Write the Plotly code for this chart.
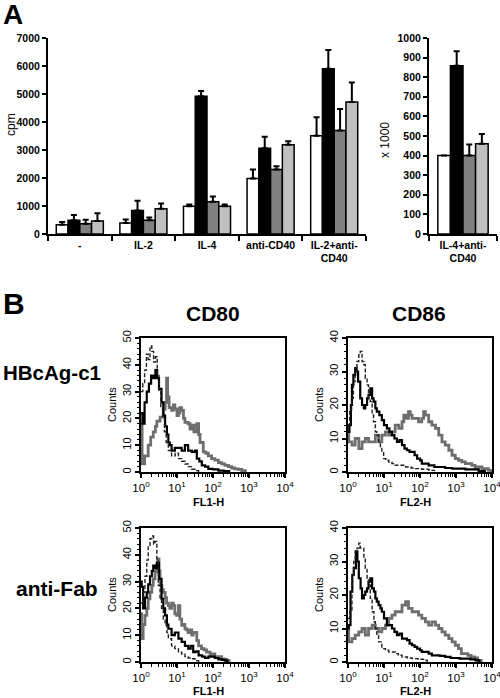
import plotly.graph_objects as go

# ---------------- Panel A data ----------------
categories_a = ["-", "IL-2", "IL-4", "anti-CD40", "IL-2+anti-<br>CD40"]
series_names = ["s1", "s2", "s3", "s4"]
series_colors = ["#ffffff", "#000000", "#808080", "#c0c0c0"]
vals_s1 = [330, 390, 990, 1980, 3510]
vals_s2 = [490, 840, 4920, 3060, 5900]
vals_s3 = [370, 490, 1150, 2300, 3700]
vals_s4 = [460, 900, 990, 3190, 4710]
err_s1 = [100, 130, 60, 320, 660]
err_s2 = [190, 350, 190, 410, 670]
err_s3 = [140, 95, 190, 120, 760]
err_s4 = [280, 190, 60, 120, 700]

categories_a2 = ["IL-4+anti-<br>CD40"]
vals2 = [[400], [858], [401], [461]]
errs2 = [[0], [74], [55], [49]]

# ---------------- Panel B data (log10 of fluorescence, counts) ----------------
# CD80, HBcAg-c1
h1_iso_x = [0, 0.05, 0.1, 0.15, 0.2, 0.25, 0.3, 0.35, 0.4, 0.45, 0.5, 0.55, 0.6, 0.65, 0.7, 0.76, 0.85, 0.95, 1.04, 1.13, 1.22, 1.31, 1.4, 1.5, 1.6]
h1_iso_y = [30, 33, 38, 44, 42, 47, 45, 41, 43, 36, 30, 24, 20, 15, 11, 8, 6, 7, 5, 4, 3, 2, 1, 0.5, 0]
h1_blk_x = [0, 0.04, 0.1, 0.16, 0.22, 0.28, 0.34, 0.4, 0.45, 0.5, 0.57, 0.62, 0.67, 0.72, 0.76, 0.8, 0.85, 0.94, 1.04, 1.13, 1.22, 1.31, 1.41, 1.5, 1.55, 1.62, 1.69, 1.78, 1.87, 2.0, 2.15, 2.3, 2.45]
h1_blk_y = [22, 18, 26, 30, 33, 36, 35, 38, 35, 31, 26, 21, 17, 14, 11, 10, 8, 9, 9, 8, 10, 8, 7.5, 8, 5, 4, 2.5, 2, 1.2, 1, 0.5, 0.3, 0]
h1_gry_x = [0, 0.03, 0.1, 0.2, 0.27, 0.34, 0.4, 0.44, 0.53, 0.62, 0.67, 0.71, 0.74, 0.78, 0.85, 0.9, 0.94, 1.0, 1.04, 1.08, 1.13, 1.18, 1.22, 1.31, 1.36, 1.41, 1.47, 1.55, 1.6, 1.64, 1.73, 1.8, 1.87, 1.96, 2.05, 2.15, 2.24, 2.33, 2.43, 2.52, 2.6, 2.7, 2.8, 2.9]
h1_gry_y = [18, 3, 6, 10, 13, 15, 17, 19, 20.5, 23.5, 26, 35, 28, 24, 23, 25, 23.5, 21, 22, 24, 23, 20, 18.5, 18, 16, 17.5, 15, 18, 14, 11, 7.5, 7, 6, 5, 4.4, 3.5, 3, 2.5, 2, 1.5, 1.2, 1, 0.5, 0]

# CD86, HBcAg-c1
h2_iso_x = [0.0, 0.05, 0.1, 0.15, 0.2, 0.25, 0.3, 0.34, 0.39, 0.44, 0.48, 0.53, 0.57, 0.62, 0.67, 0.71, 0.76, 0.8, 0.85, 0.9, 0.94, 0.99, 1.05, 1.13, 1.22, 1.31, 1.45, 1.6, 1.75, 1.87, 2.05, 2.25, 2.4]
h2_iso_y = [14, 18, 22, 27, 30, 33, 35, 36, 33, 32, 28, 26, 22, 21, 17, 15, 12, 11, 9, 7, 6, 4, 3.5, 3, 2.5, 2, 2, 1.5, 1.2, 1, 0.8, 0.5, 0]
h2_blk_x = [0, 0.04, 0.08, 0.11, 0.15, 0.2, 0.24, 0.28, 0.34, 0.39, 0.44, 0.48, 0.53, 0.57, 0.62, 0.67, 0.71, 0.76, 0.8, 0.87, 0.94, 1.0, 1.08, 1.15, 1.22, 1.29, 1.36, 1.43, 1.5, 1.57, 1.64, 1.71, 1.78, 1.85, 1.92, 2.0, 2.05, 2.15, 2.24, 2.4, 2.52, 2.7, 2.9, 3.1, 3.26, 3.45, 3.63, 3.8]
h2_blk_y = [12, 14, 20, 26, 29, 31, 30, 27, 22, 20, 19, 20, 22, 23, 25, 22, 21, 19, 18, 17, 15.5, 14, 13, 12, 11, 10, 9, 9.5, 8, 7, 6.5, 6, 6, 5, 4, 3.5, 2.5, 2.5, 2, 1.5, 1.5, 1.2, 1, 1, 0.8, 0.8, 0.3, 0]
h2_gry_x = [0, 0.02, 0.11, 0.2, 0.3, 0.39, 0.48, 0.57, 0.67, 0.76, 0.85, 0.94, 1.04, 1.13, 1.22, 1.31, 1.41, 1.5, 1.55, 1.6, 1.68, 1.73, 1.78, 1.87, 1.96, 2.05, 2.1, 2.15, 2.24, 2.33, 2.43, 2.52, 2.61, 2.7, 2.8, 2.89, 2.98, 3.07, 3.16, 3.26, 3.35, 3.44, 3.53, 3.63, 3.72, 3.8, 3.9, 3.97]
h2_gry_y = [14, 9, 8, 10, 7, 9, 10, 9, 9, 11, 9, 11, 12, 11, 12, 14, 13, 15, 17, 16, 18, 17, 16, 16, 15, 16, 18, 17, 15, 14, 13, 11, 9, 8, 6.5, 5, 4, 3.5, 3, 2.5, 2.5, 2, 1.5, 1.5, 1, 1, 0.5, 0]

# CD80, anti-Fab
h3_iso_x = [0, 0.05, 0.11, 0.16, 0.2, 0.25, 0.3, 0.35, 0.39, 0.44, 0.48, 0.53, 0.57, 0.62, 0.67, 0.72, 0.76, 0.85, 0.94, 1.04, 1.13, 1.22, 1.31, 1.41, 1.5, 1.6]
h3_iso_y = [22, 26, 32, 38, 43.5, 46, 47, 44, 45, 38.5, 28.6, 24, 20, 16, 13.7, 11, 8.7, 6, 5, 3.7, 3, 2, 1.5, 1.2, 0.5, 0]
h3_blk_x = [0, 0.02, 0.06, 0.11, 0.16, 0.2, 0.25, 0.3, 0.34, 0.39, 0.44, 0.5, 0.57, 0.62, 0.67, 0.72, 0.76, 0.85, 0.94, 1.04, 1.13, 1.22, 1.31, 1.38, 1.45, 1.52, 1.6, 1.7, 1.78, 1.87, 1.96, 2.05, 2.15, 2.25, 2.33, 2.4]
h3_blk_y = [30, 28, 20, 24, 26, 29, 32, 34, 36, 35, 37, 31, 23.6, 20, 17.4, 14, 12.4, 10, 11, 8.7, 7.5, 6, 5, 6, 3.7, 4, 2.5, 2, 1.5, 2, 2, 1.5, 1, 0.8, 0.5, 0]
h3_gry_x = [0, 0.02, 0.06, 0.11, 0.16, 0.2, 0.25, 0.3, 0.34, 0.39, 0.43, 0.46, 0.5, 0.53, 0.58, 0.62, 0.67, 0.71, 0.76, 0.8, 0.85, 0.9, 0.94, 0.99, 1.04, 1.08, 1.13, 1.18, 1.22, 1.27, 1.31, 1.36, 1.41, 1.45, 1.5, 1.55, 1.6, 1.68, 1.75, 1.82, 1.92, 2.0, 2.05, 2.15, 2.24, 2.31, 2.38, 2.45]
h3_gry_y = [18, 8.7, 14, 17.4, 20, 23.6, 26, 28.6, 31, 33.6, 36, 38.5, 34, 28.6, 27, 26, 24, 22, 21, 20, 22, 21, 18, 17.4, 21, 16, 13.7, 14, 12.4, 12, 11, 12, 10, 11, 11, 8, 6, 5, 4.5, 3.7, 2.5, 3, 2, 2, 1.2, 1, 0.5, 0]

# CD86, anti-Fab
h4_iso_x = [0, 0.05, 0.11, 0.16, 0.2, 0.25, 0.3, 0.34, 0.39, 0.44, 0.48, 0.53, 0.57, 0.62, 0.67, 0.72, 0.76, 0.8, 0.85, 0.94, 1.04, 1.13, 1.22, 1.31, 1.4, 1.5, 1.65, 1.78, 1.95, 2.1, 2.2]
h4_iso_y = [13, 15, 26, 30, 33, 34, 35.5, 34, 34, 31, 28, 25, 23, 19, 15, 12, 10, 8, 6, 4, 3.5, 3, 3, 2.5, 2, 1.5, 1.2, 1, 0.8, 0.5, 0]
h4_blk_x = [0, 0.02, 0.07, 0.12, 0.16, 0.22, 0.26, 0.3, 0.35, 0.39, 0.44, 0.48, 0.53, 0.57, 0.62, 0.67, 0.72, 0.76, 0.8, 0.85, 0.9, 0.94, 1.0, 1.08, 1.15, 1.22, 1.29, 1.36, 1.43, 1.5, 1.57, 1.64, 1.71, 1.78, 1.85, 1.92, 2.0, 2.05, 2.15, 2.24, 2.33, 2.43, 2.55, 2.7, 2.85, 2.98, 3.1, 3.26, 3.4, 3.54, 3.65]
h4_blk_y = [10, 11, 21, 26, 28, 33, 30, 25, 22, 19, 20, 21, 22, 24, 25, 22, 21, 19, 18, 17, 16, 15, 13, 11, 11, 10, 9, 8, 8.5, 7, 7, 6.5, 5.5, 5, 4.5, 4, 3.5, 3, 3, 2.5, 2, 2, 1.8, 1.5, 1.2, 1.2, 1, 1, 0.8, 0.5, 0]
h4_gry_x = [0, 0.02, 0.11, 0.2, 0.3, 0.39, 0.48, 0.57, 0.67, 0.76, 0.85, 0.94, 1.04, 1.13, 1.22, 1.31, 1.41, 1.5, 1.6, 1.68, 1.78, 1.87, 1.96, 2.05, 2.15, 2.24, 2.33, 2.43, 2.52, 2.61, 2.7, 2.8, 2.89, 2.98, 3.07, 3.15, 3.24, 3.33, 3.42, 3.52, 3.6, 3.7]
h4_gry_y = [10, 6, 7, 8, 9, 10, 8, 10, 11, 10, 9, 10, 11, 13, 14, 15, 15, 17, 18, 16, 15, 15, 14, 13, 12, 11, 12, 11, 10, 9, 8, 7, 6, 5, 4, 2.5, 2.5, 2, 1.5, 1.2, 0.5, 0]

hist_xtick_vals = [1, 10, 100, 1000, 10000]
hist_xtick_text = ["10<sup>0</sup>", "10<sup>1</sup>", "10<sup>2</sup>", "10<sup>3</sup>", "10<sup>4</sup>"]
hist_minor = [m * 10 ** d for d in range(4) for m in range(2, 10)]

W, H = 500, 698
FONT = "Liberation Sans, Arial, sans-serif"

def px_x(p):
    return p / W

def px_y(p):
    return 1 - p / H

fig = go.Figure()

# ---- Panel A, left chart ----
for name, col, v, e in zip(series_names, series_colors,
                           [vals_s1, vals_s2, vals_s3, vals_s4],
                           [err_s1, err_s2, err_s3, err_s4]):
    fig.add_trace(go.Bar(x=categories_a, y=v, name=name, xaxis="x", yaxis="y",
                         marker=dict(color=col, line=dict(color="black", width=1.5)),
                         error_y=dict(type="data", symmetric=False, array=e,
                                      arrayminus=[0] * len(e), color="black",
                                      thickness=2, width=3),
                         showlegend=False))
# ---- Panel A, right chart ----
for name, col, v, e in zip(series_names, series_colors, vals2, errs2):
    fig.add_trace(go.Bar(x=categories_a2, y=v, name=name, xaxis="x2", yaxis="y2",
                         marker=dict(color=col, line=dict(color="black", width=1.5)),
                         error_y=dict(type="data", symmetric=False, array=e,
                                      arrayminus=[0], color="black",
                                      thickness=2, width=3),
                         showlegend=False))

# ---- Panel B histograms ----
hists = [
    (h1_iso_x, h1_iso_y, h1_blk_x, h1_blk_y, h1_gry_x, h1_gry_y, "x3", "y3"),
    (h2_iso_x, h2_iso_y, h2_blk_x, h2_blk_y, h2_gry_x, h2_gry_y, "x4", "y4"),
    (h3_iso_x, h3_iso_y, h3_blk_x, h3_blk_y, h3_gry_x, h3_gry_y, "x5", "y5"),
    (h4_iso_x, h4_iso_y, h4_blk_x, h4_blk_y, h4_gry_x, h4_gry_y, "x6", "y6"),
]
for ix, iy, bx, by, gx, gy, xa, ya in hists:
    fig.add_trace(go.Scatter(x=[10 ** v for v in gx], y=gy, mode="lines", line_shape="hv",
                             line=dict(color="#6e6e6e", width=2.8), xaxis=xa, yaxis=ya,
                             showlegend=False))
    fig.add_trace(go.Scatter(x=[10 ** v for v in bx], y=by, mode="lines", line_shape="hv",
                             line=dict(color="black", width=2.2), xaxis=xa, yaxis=ya,
                             showlegend=False))
    fig.add_trace(go.Scatter(x=[10 ** v for v in ix], y=iy, mode="lines", line_shape="hv",
                             line=dict(color="#222222", width=1.4, dash="4px,2px"),
                             xaxis=xa, yaxis=ya, showlegend=False))

bold_tick = dict(family=FONT, size=10.5, color="#000000", weight="bold")

layout = dict(
    template="none",
    width=W, height=H, margin=dict(l=0, r=0, t=0, b=0, autoexpand=False),
    paper_bgcolor="white", plot_bgcolor="white",
    barmode="group", bargap=0.26, bargroupgap=0,
    font=dict(family=FONT, color="#000000"),
    xaxis=dict(domain=[px_x(48), px_x(366)], anchor="y", type="category", automargin=False,
               showline=True, linecolor="black", linewidth=2, ticks="outside",
               tickson="boundaries", ticklen=5, tickwidth=1.5, tickcolor="black",
               tickfont=bold_tick, showgrid=False, zeroline=False),
    yaxis=dict(domain=[px_y(234), px_y(38)], anchor="x", range=[0, 7000], dtick=1000,
               automargin=False,
               showline=True, linecolor="black", linewidth=2, ticks="outside",
               ticklen=4, tickwidth=1.5, tickcolor="black", tickfont=bold_tick,
               showgrid=False, zeroline=False),
    xaxis2=dict(domain=[px_x(429), px_x(497)], anchor="y2", type="category", automargin=False,
                showline=True, linecolor="black", linewidth=2, ticks="outside",
                tickson="boundaries", ticklen=5, tickwidth=1.5, tickcolor="black",
                tickfont=bold_tick, showgrid=False, zeroline=False,
                ticklabeloverflow="allow"),
    yaxis2=dict(domain=[px_y(234), px_y(38)], anchor="x2", range=[0, 1000], dtick=100,
                automargin=False,
                showline=True, linecolor="black", linewidth=2, ticks="outside",
                ticklen=4, tickwidth=1.5, tickcolor="black", tickfont=bold_tick,
                showgrid=False, zeroline=False),
)

hist_boxes = [
    ("3", 141, 285, 338, 472, 50),
    ("4", 348, 492, 338, 472, 40),
    ("5", 141, 285, 528, 662, 50),
    ("6", 348, 492, 528, 662, 40),
]
for k, x0, x1, y0, y1, ymax in hist_boxes:
    layout["xaxis" + k] = dict(
        domain=[px_x(x0), px_x(x1)], anchor="y" + k, type="log", range=[0, 4],
        automargin=False, tickmode="array", ticklabeloverflow="allow",
        tickvals=hist_xtick_vals, ticktext=hist_xtick_text, ticks="outside",
        ticklen=4, tickwidth=1.5, tickcolor="black",
        minor=dict(tickvals=hist_minor, ticks="outside", ticklen=2.5, tickwidth=1,
                   tickcolor="black"),
        showline=True, mirror=True, linecolor="black", linewidth=2,
        tickfont=dict(family=FONT, size=11.5, color="#000000"),
        showgrid=False, zeroline=False)
    layout["yaxis" + k] = dict(
        domain=[px_y(y1), px_y(y0)], anchor="x" + k, range=[0, ymax], dtick=10,
        automargin=False,
        ticks="outside", ticklen=4, tickwidth=1.5, tickcolor="black", tickangle=-90,
        minor=dict(dtick=2, ticks="outside", ticklen=2.5, tickwidth=1, tickcolor="black"),
        showline=True, mirror=True, linecolor="black", linewidth=2,
        tickfont=dict(family=FONT, size=11, color="#000000"),
        showgrid=False, zeroline=False)

fig.update_layout(**layout)

def ann(text, x, y, size, bold=False, angle=0, xanchor="center", yanchor="middle"):
    fig.add_annotation(text=text, x=px_x(x), y=px_y(y), xref="paper", yref="paper",
                       showarrow=False, textangle=angle, xanchor=xanchor, yanchor=yanchor,
                       font=dict(family=FONT, size=size, color="black",
                                 weight="bold" if bold else "normal"))

ann("A", 1, 15, 28, bold=True, xanchor="left")
ann("B", 1, 303, 30, bold=True, xanchor="left")
ann("cpm", 11, 125, 12, angle=-90)
ann("x 1000", 385, 140, 12, angle=-90)
ann("CD80", 213, 313, 21, bold=True)
ann("CD86", 419, 313, 21, bold=True)
ann("HBcAg-c1", 1, 372, 20.5, bold=True, xanchor="left")
ann("anti-Fab", 14, 588, 21, bold=True, xanchor="left")
for cx, cy in [(112, 405), (319, 405), (112, 595), (319, 595)]:
    ann("Counts", cx, cy, 11, angle=-90)
for cx, cy, t in [(208, 502, "FL1-H"), (415, 502, "FL2-H"), (208, 691, "FL1-H"), (415, 691, "FL2-H")]:
    ann(t, cx, cy, 11, bold=True)

fig.write_html("out.html", config={"displayModeBar": False},
               post_script="document.body.style.margin='0px';document.body.style.overflow='hidden';")
